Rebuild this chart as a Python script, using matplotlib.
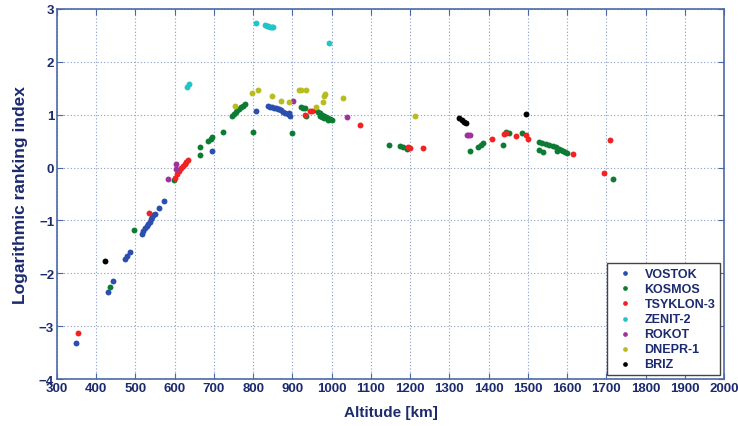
import matplotlib
matplotlib.use("Agg")
import matplotlib.pyplot as plt
import numpy as np

# altitude [km] / log ranking index per launcher family
vostok_alt = [348, 429, 443, 473, 478, 486, 516, 520, 524, 529, 533, 537, 539, 542, 545, 550, 560, 573,
              696, 807, 837, 842, 847, 852, 857, 862, 867, 872, 877, 882, 889, 892, 894]
vostok_val = [-3.32, -2.36, -2.15, -1.72, -1.67, -1.59, -1.25, -1.20, -1.15, -1.11, -1.07, -1.03, -0.98,
              -0.94, -0.90, -0.87, -0.77, -0.64,
              0.32, 1.07, 1.17, 1.15, 1.14, 1.13, 1.12, 1.11, 1.10, 1.08, 1.06, 1.04, 1.01, 1.03, 0.98]

kosmos_alt = [435, 496, 598, 664, 664, 686, 692, 694, 724, 800, 898,
              745, 750, 755, 760, 765, 770, 775, 779,
              923, 928, 932, 935,
              960, 965, 970, 975, 980, 985, 990, 995, 1000, 970, 980, 990, 975,
              1147, 1174, 1182, 1191, 1352, 1374, 1380, 1385,
              1436, 1444, 1452, 1485,
              1527, 1535, 1545, 1555, 1565, 1572, 1580, 1585, 1590, 1595, 1599, 1575, 1527, 1538,
              1718]
kosmos_val = [-2.25, -1.18, -0.23, 0.24, 0.39, 0.51, 0.55, 0.57, 0.68, 0.68, 0.65,
              0.98, 1.02, 1.05, 1.08, 1.11, 1.14, 1.17, 1.20,
              1.14, 1.13, 1.12, 0.97,
              1.08, 1.05, 1.03, 1.00, 0.98, 0.96, 0.94, 0.92, 0.90, 0.98, 0.93, 0.90, 0.95,
              0.42, 0.41, 0.38, 0.36, 0.32, 0.39, 0.42, 0.46,
              0.43, 0.68, 0.65, 0.65,
              0.49, 0.46, 0.44, 0.42, 0.41, 0.39, 0.36, 0.33, 0.31, 0.29, 0.28, 0.32, 0.34, 0.30,
              -0.22]

tsyklon_alt = [353, 535, 600, 605, 610, 615, 620, 625, 630, 635,
               932, 945, 949, 1072, 1195, 1199, 1232, 1409,
               1440, 1444, 1470, 1495, 1501, 1616, 1694, 1709]
tsyklon_val = [-3.13, -0.85, -0.20, -0.12, -0.06, -0.01, 0.03, 0.07, 0.11, 0.15,
               0.99, 1.07, 1.07, 0.80, 0.38, 0.37, 0.37, 0.55,
               0.63, 0.66, 0.60, 0.62, 0.54, 0.25, -0.11, 0.52]

zenit_alt = [632, 637, 806, 830, 834, 838, 843, 847, 851, 994]
zenit_val = [1.52, 1.58, 2.73, 2.69, 2.68, 2.67, 2.66, 2.66, 2.65, 2.35]

rokot_alt = [584, 603, 603, 902, 1040, 1344, 1348, 1352]
rokot_val = [-0.21, 0.06, -0.03, 1.26, 0.95, 0.62, 0.61, 0.61]

dnepr_alt = [754, 798, 811, 849, 871, 891, 916, 923, 934, 961, 978, 980, 982, 1028, 1212]
dnepr_val = [1.16, 1.42, 1.46, 1.35, 1.26, 1.25, 1.46, 1.47, 1.47, 1.14, 1.25, 1.36, 1.39, 1.31, 0.97]

briz_alt = [422, 1325, 1331, 1337, 1342, 1495]
briz_val = [-1.77, 0.93, 0.90, 0.87, 0.85, 1.02]

series = [("VOSTOK", vostok_alt, vostok_val, "#2b4fae"),
          ("KOSMOS", kosmos_alt, kosmos_val, "#0c7c34"),
          ("TSYKLON-3", tsyklon_alt, tsyklon_val, "#f02222"),
          ("ZENIT-2", zenit_alt, zenit_val, "#22c4c8"),
          ("ROKOT", rokot_alt, rokot_val, "#a0309c"),
          ("DNEPR-1", dnepr_alt, dnepr_val, "#b8bc22"),
          ("BRIZ", briz_alt, briz_val, "#000000")]

navy = "#1c2a6e"
axcol = "#4a68a8"
sans = ["Liberation Sans", "DejaVu Sans"]

fig = plt.figure(figsize=(7.38, 4.27), dpi=100)
ax = fig.add_axes([0.0772, 0.110, 0.904, 0.8666])

for name, x, y, c in series:
    ax.scatter(x, y, s=18, color=c, label=name, linewidths=0, zorder=3)

ax.set_xlim(300, 2000)
ax.set_ylim(-4, 3)
ax.set_xticks(np.arange(300, 2001, 100))
ax.set_yticks(np.arange(-4, 4, 1))
ax.grid(True, linestyle=(0, (1, 2)), color="#8c9cc8", linewidth=0.8)
ax.tick_params(direction="in", top=True, right=True, color=axcol, length=4,
               labelcolor=navy, labelsize=9.5, pad=2)
for lab in ax.get_xticklabels() + ax.get_yticklabels():
    lab.set_family(sans)
    lab.set_fontweight("bold")
for sp in ax.spines.values():
    sp.set_color(axcol)
    sp.set_linewidth(1.2)

ax.set_xlabel("Altitude [km]", fontsize=11, color=navy, fontweight="bold",
              family=sans, labelpad=8)
ax.set_ylabel("Logarithmic ranking index", fontsize=12.5, color=navy, fontweight="bold",
              family=sans, labelpad=8)

leg = ax.legend(loc="lower right", fontsize=9, markerscale=0.8, handletextpad=0.6,
                borderpad=0.4, labelspacing=0.25, fancybox=False, framealpha=1,
                edgecolor="#444444", bbox_to_anchor=(1.0, 0.0), borderaxespad=0.3)
for t in leg.get_texts():
    t.set_color(navy)
    t.set_fontweight("bold")
    t.set_family(sans)

fig.savefig("out.png", dpi=100)
